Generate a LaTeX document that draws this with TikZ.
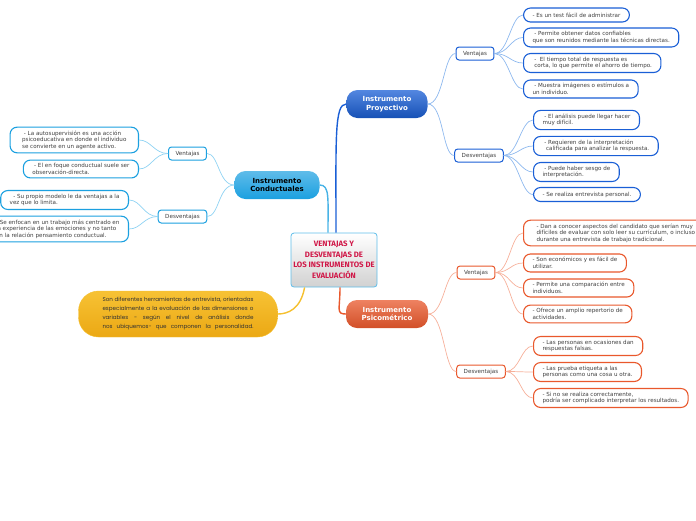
\documentclass[tikz,border=0pt]{standalone}
\usepackage{fontspec}
\setmainfont{DejaVu Sans}
\newfontfamily\titlefont{Fira Sans}
\newfontfamily\notefont{Poppins}
\newcommand\spreadline[1]{\makebox[151pt][s]{#1}}
\definecolor{proyblue}{HTML}{1A5FD6}
\definecolor{proylink}{HTML}{8DB8EE}
\definecolor{condblue}{HTML}{1BA0E0}
\definecolor{condlink}{HTML}{8FD3F3}
\definecolor{psicred}{HTML}{E9582C}
\definecolor{psiclink}{HTML}{F6B09A}
\definecolor{titlered}{HTML}{D01848}
\definecolor{noteline}{HTML}{F5C030}
\definecolor{notetop}{HTML}{F7C234}
\definecolor{notebottom}{HTML}{EBA814}
\tikzset{
    central/.style={
        rectangle, draw=condblue!70, line width=0.8pt,
        top color=white, bottom color=black!18,
        rounded corners=3pt, minimum width=86pt, minimum height=54pt,
        inner xsep=1pt, align=center, text=titlered,
        font=\titlefont\bfseries\fontsize{7.8}{10.5}\selectfont
    },
    topic/.style={
        rectangle, rounded corners=11pt, align=center,
        minimum height=28pt, inner xsep=2pt,
        font=\bfseries\fontsize{7}{8.5}\selectfont
    },
    note/.style={
        rectangle, rounded corners=20pt, align=center,
        top color=notetop, bottom color=notebottom,
        draw=noteline, minimum width=199pt, minimum height=46pt,
        text=black!80, font=\notefont\fontsize{5.6}{9}\selectfont
    },
    subtopic/.style={
        rectangle, draw, fill=white, rounded corners=3pt, line width=1pt,
        inner xsep=7pt, inner ysep=2pt, minimum height=13pt,
        text=black!75, font=\fontsize{5.6}{6.5}\selectfont
    },
    leaf/.style={
        rectangle, draw, fill=white, rounded corners=7pt, line width=1.1pt,
        align=left, inner xsep=9pt, inner ysep=3.5pt, minimum height=14pt,
        text=black!75, font=\fontsize{5.6}{6.5}\selectfont
    },
    link/.style={line width=0.7pt},
    trunk/.style={line width=1.4pt}
}
\begin{document}
\begin{tikzpicture}[x=1pt, y=-1pt]
    \useasboundingbox (0,0) rectangle (696,520);
    % centre and main topics
    \node (root) [central] at (334,260) {VENTAJAS Y\\DESVENTAJAS DE\\LOS INSTRUMENTOS DE\\EVALUACIÓN};
    \node (proj) [topic, minimum width=81pt, top color=proyblue!75, bottom color=proyblue!85!black, text=white] at (387,104) {Instrumento\\Proyectivo};
    \node (cond) [topic, minimum width=85pt, top color=condblue!70, bottom color=condblue, text=black] at (277,185) {Instrumento\\Conductuales};
    \node (psic) [topic, minimum width=82pt, top color=psicred!75, bottom color=psicred!90!black, text=white] at (387,314) {Instrumento\\Psicométrico};
    \node (info) [note] at (178,314) {\spreadline{Son diferentes herramientas de entrevista, orientadas}\\\spreadline{especialmente a la evaluación de las dimensiones o}\\\spreadline{variables - según el nivel de análisis donde}\\\spreadline{nos ubiquemos- que componen la personalidad.}};

    \draw [trunk, proyblue] ([xshift=2pt]root.north) .. controls +(0,-95) and +(-12,0) .. (proj.west);
    \draw [trunk, condblue!80] ([xshift=-6pt]root.north) .. controls +(0,-35) and +(10,0) .. (cond.east);
    \draw [trunk, psicred] ([xshift=6pt]root.south) .. controls +(0,22) and +(-10,0) .. (psic.west);
    \draw [trunk, noteline] ([xshift=14pt]root.south west) .. controls +(-4,22) and +(10,0) .. (info.east);

    % Instrumento Proyectivo
    \node (pv) [subtopic, draw=proyblue] at (475,53.5) {Ventajas};
    \node (pd) [subtopic, draw=proyblue] at (479,155.5) {Desventajas};
    \node (pv1) [leaf, draw=proyblue, anchor=west] at (523,15) {- Es un test fácil de administrar};
    \node (pv2) [leaf, draw=proyblue, anchor=west] at (523,37.5) {\ - Permite obtener datos confiables\\que son reunidos mediante las técnicas directas.};
    \node (pv3) [leaf, draw=proyblue, anchor=west] at (523,63) {\ -\ \ El tiempo total de respuesta es\\\ corta, lo que permite el ahorro de tiempo.};
    \node (pv4) [leaf, draw=proyblue, anchor=west] at (523,89) {\ - Muestra imágenes o estímulos a\\un individuo.};
    \node (pd1) [leaf, draw=proyblue, anchor=west] at (533,120) {\ - El análisis puede llegar hacer\\muy difícil.};
    \node (pd2) [leaf, draw=proyblue, anchor=west] at (533,146) {\ - Requieren de la interpretación\\\ \ calificada para analizar la respuesta.};
    \node (pd3) [leaf, draw=proyblue, anchor=west] at (533,172) {\ - Puede haber sesgo de\\interpretación.};
    \node (pd4) [leaf, draw=proyblue, anchor=west] at (533,194.5) {- Se realiza entrevista personal.};

    \draw [link, proylink] (proj.east) .. controls +(16,0) and +(-12,0) .. (pv.west);
    \draw [link, proylink] (proj.east) .. controls +(16,0) and +(-12,0) .. (pd.west);
    \foreach \n in {pv1,pv2,pv3,pv4}
        \draw [link, proylink] (pv.east) .. controls +(14,0) and +(-12,0) .. (\n.west);
    \foreach \n in {pd1,pd2,pd3,pd4}
        \draw [link, proylink] (pd.east) .. controls +(14,0) and +(-12,0) .. (\n.west);

    % Instrumento Conductuales
    \node (cv) [subtopic, draw=condblue] at (187.5,153.5) {Ventajas};
    \node (cd) [subtopic, draw=condblue] at (182.5,216.5) {Desventajas};
    \node (cv1) [leaf, draw=condblue, anchor=east, inner xsep=12pt] at (139,140) {\ - La autosupervisión es una acción\\psicoeducativa en donde el individuo\\se convierte en un agente activo.};
    \node (cv2) [leaf, draw=condblue, anchor=east] at (139,169) {\ - El en foque conductual suele ser\\observación-directa.};
    \node (cd1) [leaf, draw=condblue, anchor=east] at (129,200) {\ \ - Su propio modelo le da ventajas a la\\vez que lo limita.};
    \node (cd2) [leaf, draw=condblue, anchor=east] at (129,229) {- Se enfocan en un trabajo más centrado en\\la experiencia de las emociones y no tanto\\en la relación pensamiento conductual.};

    \draw [link, condlink] (cond.west) .. controls +(-16,0) and +(12,0) .. (cv.east);
    \draw [link, condlink] (cond.west) .. controls +(-16,0) and +(12,0) .. (cd.east);
    \foreach \n in {cv1,cv2}
        \draw [link, condlink] (cv.west) .. controls +(-14,0) and +(12,0) .. (\n.east);
    \foreach \n in {cd1,cd2}
        \draw [link, condlink] (cd.west) .. controls +(-14,0) and +(12,0) .. (\n.east);

    % Instrumento Psicometrico
    \node (sv) [subtopic, draw=psicred] at (476,272.5) {Ventajas};
    \node (sd) [subtopic, draw=psicred] at (481,371.5) {Desventajas};
    \node (sv1) [leaf, draw=psicred, anchor=west, inner xsep=13pt] at (523,233) {- Dan a conocer aspectos del candidato que serían muy\\difíciles de evaluar con solo leer su currículum, o incluso\\durante una entrevista de trabajo tradicional.};
    \node (sv2) [leaf, draw=psicred, anchor=west] at (523,263) {- Son económicos y es fácil de\\utilizar.};
    \node (sv3) [leaf, draw=psicred, anchor=west] at (523,288) {- Permite una comparación entre\\individuos.};
    \node (sv4) [leaf, draw=psicred, anchor=west] at (523,314) {- Ofrece un amplio repertorio de\\actividades.};
    \node (sd1) [leaf, draw=psicred, anchor=west] at (533,346) {- Las personas en ocasiones dan\\respuestas falsas.};
    \node (sd2) [leaf, draw=psicred, anchor=west] at (533,372) {- Las prueba etiqueta a las\\personas como una cosa u otra.};
    \node (sd3) [leaf, draw=psicred, anchor=west] at (533,398) {- Si no se realiza correctamente,\\podría ser complicado interpretar los resultados.};

    \draw [link, psiclink] (psic.east) .. controls +(16,0) and +(-12,0) .. (sv.west);
    \draw [link, psiclink] (psic.east) .. controls +(16,0) and +(-12,0) .. (sd.west);
    \foreach \n in {sv1,sv2,sv3,sv4}
        \draw [link, psiclink] (sv.east) .. controls +(14,0) and +(-12,0) .. (\n.west);
    \foreach \n in {sd1,sd2,sd3}
        \draw [link, psiclink] (sd.east) .. controls +(14,0) and +(-12,0) .. (\n.west);
\end{tikzpicture}
\end{document}
